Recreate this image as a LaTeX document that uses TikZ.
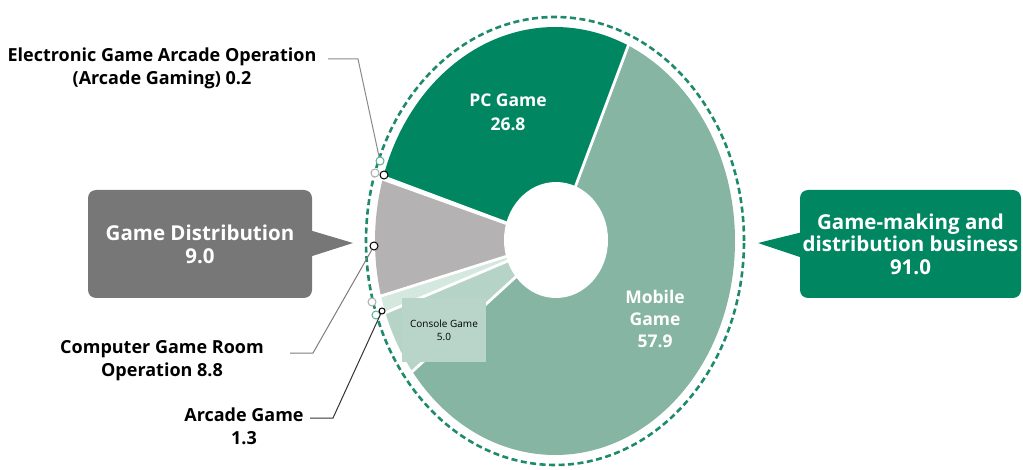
\documentclass[tikz,border=0pt]{standalone}
\usepackage{fontspec}
\setmainfont{Open Sans}
\usetikzlibrary{calc}

\definecolor{pcgreen}{HTML}{008762}
\definecolor{mobilegreen}{HTML}{86B5A4}
\definecolor{consolegreen}{HTML}{B5D3C7}
\definecolor{consolebox}{HTML}{B9D5CA}
\definecolor{arcadegreen}{HTML}{D5E8E0}
\definecolor{roomgray}{HTML}{B4B2B3}
\definecolor{calloutgray}{HTML}{777777}
\definecolor{ringgreen}{HTML}{1E8A6C}
\definecolor{leadergray}{HTML}{8A8A8A}
\definecolor{leaderdark}{HTML}{333333}

% one wedge of the donut, given in parametric ellipse angles
\newcommand\donutwedge[3]{%
  \fill[#1] (C) -- ($(C)+({180*cos(#2)},{214*sin(#2)})$)
    arc[start angle=#2, end angle=#3, x radius=180pt, y radius=214pt] -- cycle;}
\newcommand\wedgegap[1]{%
  \draw[white, line width=2.8pt] (C) -- ($(C)+({181*cos(#1)},{215*sin(#1)})$);}

\begin{document}
\begin{tikzpicture}[x=1pt,y=1pt,
  blacklabel/.style={align=center, text=black, font=\fontsize{18}{23}\selectfont\bfseries, inner sep=0pt},
  slicelabel/.style={align=center, text=white, font=\fontsize{17.5}{24}\selectfont\bfseries, inner sep=0pt},
  callout/.style={rounded corners=8pt, minimum width=224pt, minimum height=108pt, inner sep=0pt,
    align=center, text=white, font=\fontsize{20.5}{23}\selectfont\bfseries},
  dot/.style={circle, fill=white, inner sep=0pt, minimum size=8pt, line width=1pt},
  leader/.style={line width=1pt}]
\useasboundingbox (0,0) rectangle (1023,469);

\coordinate (C) at (555,228);

% wedges, counter-clockwise from the PC / mobile border
\donutwedge{pcgreen}{66}{162.5}
\donutwedge{arcadegreen}{162.5}{163.2}
\donutwedge{roomgray}{163.2}{194.9}
\donutwedge{arcadegreen}{194.9}{199.6}
\donutwedge{consolegreen}{199.6}{217.6}
\donutwedge{mobilegreen}{217.6}{426}
\foreach \a in {66,162.5,163.2,194.9,199.6,217.6} {\wedgegap{\a}}

% hole in the middle
\fill[white] (556,229) ellipse[x radius=52pt, y radius=58pt];

% dashed outline of the whole market
\draw[ringgreen, line width=2.6pt, dash pattern=on 6pt off 3.5pt]
  (C) ellipse[x radius=189pt, y radius=224pt];

% wedge labels
\node[slicelabel] (pc) at (508,356.5) {PC Game\\26.8};
\node[slicelabel, font=\fontsize{17.5}{22}\selectfont\bfseries] (mobile) at (655,150) {Mobile\\Game\\57.9};
\node[fill=consolebox, minimum width=84pt, minimum height=64pt, inner sep=0pt, align=center,
  font=\fontsize{10}{13}\selectfont] (console) at (444,139) {Console Game\\5.0};

% callouts
\node[callout, fill=calloutgray] (dist) at (200,225) {Game Distribution\\9.0};
\coordinate (disttip) at (353,226);
\fill[calloutgray] ($(dist.east)+(-3,14)$) -- (disttip) -- ($(dist.east)+(-3,-13)$) -- cycle;

\node[callout, fill=pcgreen, minimum width=221pt, font=\fontsize{20.5}{22.5}\selectfont\bfseries]
  (making) at (910.5,225) {Game-making and\\distribution business\\91.0};
\coordinate (makingtip) at (758,226);
\fill[pcgreen] ($(making.west)+(3,12)$) -- (makingtip) -- ($(making.west)+(3,-14)$) -- cycle;

% small markers on the rim
\node[dot, draw=ringgreen!70] (topgreen) at (380,308) {};
\node[dot, draw=leadergray!70] (topgray) at (375,296) {};
\node[dot, draw=black] (topblack) at (384,294) {};
\node[dot, draw=black] (midblack) at (374,223) {};
\node[dot, draw=leadergray!70] (lowgray) at (372,167) {};
\node[dot, draw=ringgreen!70] (lowgreen) at (376,154) {};
\node[dot, draw=black, minimum size=6pt] (lowblack) at (382,158) {};

% side labels with their leaders
\node[blacklabel] (ega) at (162,401) {Electronic Game Arcade Operation\\(Arcade Gaming) 0.2};
\coordinate (egastart) at (328,410);
\draw[leader, leadergray] (egastart) -- ++(30,0) -- (topgreen);

\node[blacklabel] (room) at (162,108) {Computer Game Room\\Operation 8.8};
\coordinate (roomstart) at (290,116);
\draw[leader, leadergray!90!black] (roomstart) -- ++(23,0) -- (midblack);

\node[blacklabel] (arcade) at (244,43) {Arcade Game\\1.3};
\coordinate (arcadestart) at (310,51);
\draw[leader, leaderdark] (arcadestart) -- ++(23,0) -- (lowblack);
\end{tikzpicture}
\end{document}
